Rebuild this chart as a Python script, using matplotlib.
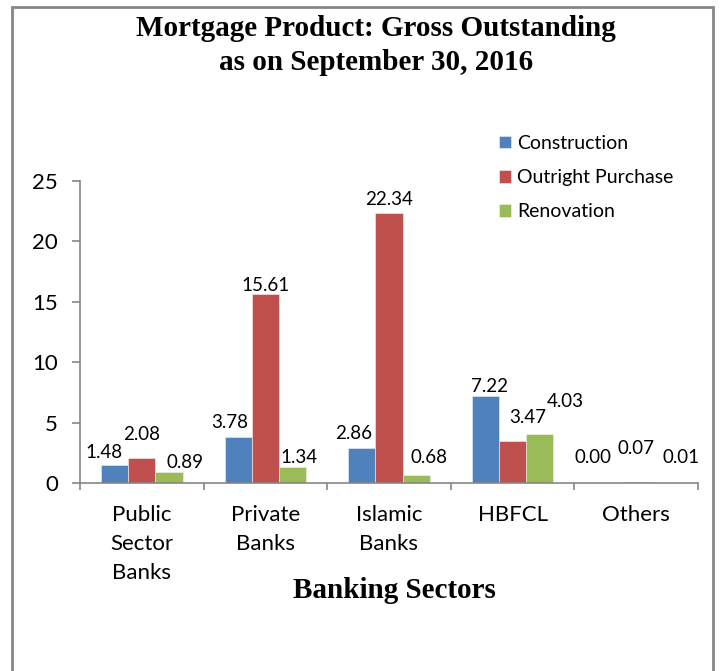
import numpy as np
import matplotlib.pyplot as plt
from matplotlib.patches import Rectangle

sectors = ["Public\nSector\nBanks", "Private\nBanks", "Islamic\nBanks", "HBFCL", "Others"]
construction = [1.48, 3.78, 2.86, 7.22, 0.00]
outright = [2.08, 15.61, 22.34, 3.47, 0.07]
renovation = [0.89, 1.34, 0.68, 4.03, 0.01]
series_names = ["Construction", "Outright Purchase", "Renovation"]
colors = ["#4F81BD", "#C0504D", "#9BBB59"]

# label nudges in pixels (dx, baseline gap above bar) so labels don't collide
nudges = [
    [(-11, 7), (-8, 9), (-8, 9), (4, 4), (-16, 20)],
    [(0, 18), (0, 3), (0, 8), (15, 18), (0, 28)],
    [(16, 4), (6, 4), (13, 12), (25, 27), (18, 20)],
]

sans = ["Lato", "DejaVu Sans"]
serif = ["Liberation Serif", "DejaVu Serif"]
grey = "#868686"
px = 0.72  # points per pixel at 100 dpi

fig = plt.figure(figsize=(7.2, 6.71), dpi=100)
ax = fig.add_axes([80/720, 1-483/671, 618/720, 302/671])

x = np.arange(len(sectors))
w = 0.22
for i, (vals, name, c) in enumerate(zip([construction, outright, renovation], series_names, colors)):
    bars = ax.bar(x + (i-1)*w, vals, w, color=c, label=name, edgecolor="#f2f2f2", linewidth=0.4)
    for b, v, (dx, dy) in zip(bars, vals, nudges[i]):
        ax.annotate(f"{v:.2f}", (b.get_x() + b.get_width()/2, v), xytext=(dx*px, dy*px),
                    textcoords="offset points", ha="center", va="baseline",
                    fontsize=13.5, family=sans)

ax.set_xlim(-0.5, len(sectors)-0.5)
ax.set_ylim(0, 25)
ax.set_yticks(range(0, 26, 5))
ax.set_xticks(x)
ax.set_xticklabels(sectors, family=sans, fontsize=16, linespacing=1.57, va="top")
ax.set_xticks(np.arange(-0.5, len(sectors)), minor=True)
ax.tick_params(axis="x", which="major", length=0, pad=16)
ax.tick_params(axis="x", which="minor", length=5, color=grey, width=1.2)
ax.tick_params(axis="y", length=6, color=grey, width=1.2, pad=10, labelsize=16)
for t in ax.get_yticklabels():
    t.set_family(sans)
for s in ["top", "right"]:
    ax.spines[s].set_visible(False)
for s in ["left", "bottom"]:
    ax.spines[s].set_color(grey)
    ax.spines[s].set_linewidth(1.2)

ax.set_xlabel("Banking Sectors", family=serif, fontweight="bold", fontsize=21)
ax.xaxis.set_label_coords((394-80)/618, (483-577)/302)

fig.text(376/720, 1-28/671, "Mortgage Product: Gross Outstanding", ha="center", va="center",
         family=serif, fontweight="bold", fontsize=21)
fig.text(376/720, 1-62/671, "as on September 30, 2016", ha="center", va="center",
         family=serif, fontweight="bold", fontsize=21)

ax.legend(loc="upper left", bbox_to_anchor=(499/720, 1-135/671), bbox_transform=fig.transFigure,
          frameon=False, prop={"family": sans, "size": 14}, handlelength=0.62, handleheight=0.62,
          handletextpad=0.3, labelspacing=0.88, borderpad=0, borderaxespad=0)

# outer chart frame, open at the bottom edge
fig.patches.append(Rectangle((12/720, -0.02), 701/720, 1-7/671+0.02, transform=fig.transFigure,
                             fill=False, edgecolor=grey, linewidth=2))

fig.savefig("out.png", dpi=100)
